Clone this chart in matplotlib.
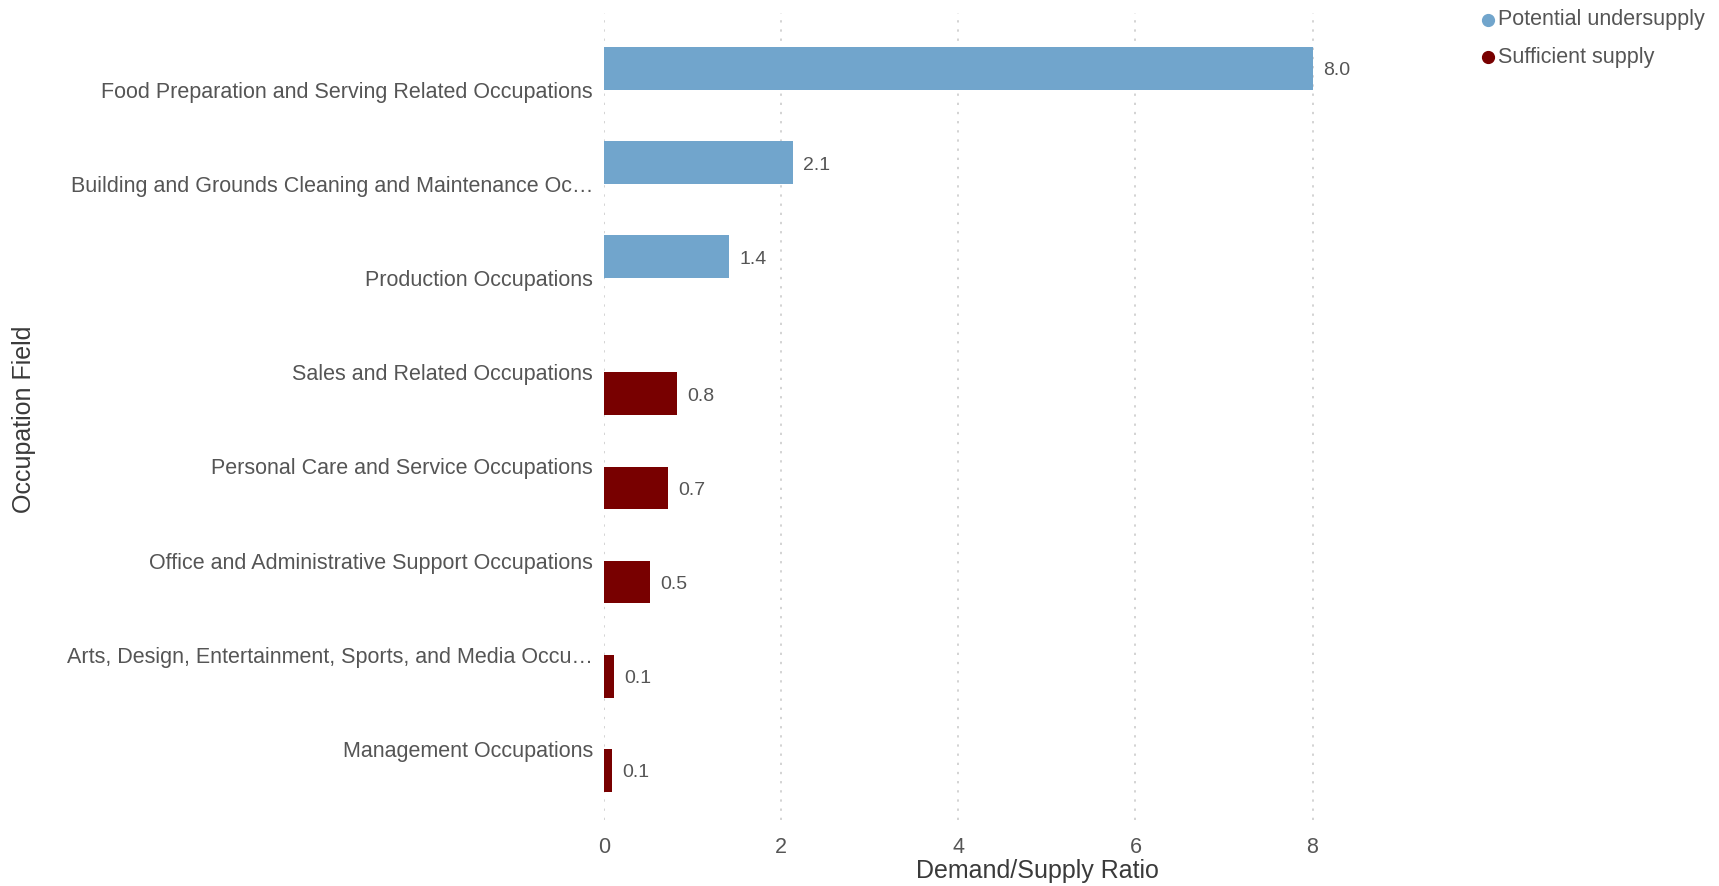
import matplotlib
matplotlib.use("Agg")
import matplotlib.pyplot as plt
from matplotlib.lines import Line2D

plt.rcParams['font.family'] = ['Liberation Sans', 'DejaVu Sans']

categories = [
    "Food Preparation and Serving Related Occupations",
    "Building and Grounds Cleaning and Maintenance Oc\u2026",
    "Production Occupations",
    "Sales and Related Occupations",
    "Personal Care and Service Occupations",
    "Office and Administrative Support Occupations",
    "Arts, Design, Entertainment, Sports, and Media Occu\u2026",
    "Management Occupations",
]
undersupply = [8.0, 2.13, 1.41, None, None, None, None, None]
sufficient = [None, None, None, 0.82, 0.72, 0.52, 0.11, 0.09]
series_names = ["Potential undersupply", "Sufficient supply"]
series_colors = ["#71A5CC", "#780000"]
x_ticks = [0, 2, 4, 6, 8]

# reference measured on a 1568x808 view of the 1719x886 image
RW, RH = 1568.0, 808.0
fig = plt.figure(figsize=(17.19, 8.86), dpi=100)
ax_left, ax_right = 551, 1341
ax_top, ax_bot = 12, 748
ax = fig.add_axes([ax_left / RW, 1 - ax_bot / RH, (ax_right - ax_left) / RW, (ax_bot - ax_top) / RH])

txt_color = "#555555"
title_color = "#3a3a3a"
bar_h = 0.453
offsets = [-0.227, 0.227]
for vals, name, col, off in zip([undersupply, sufficient], series_names, series_colors, offsets):
    idx = [i for i, v in enumerate(vals) if v is not None]
    v = [vals[i] for i in idx]
    ys = [i + off for i in idx]
    ax.barh(ys, v, height=bar_h, color=col, label=name)
    for y, val in zip(ys, v):
        ax.annotate(f"{val:.1f}", (val, y), xytext=(7.5, -1.8), textcoords="offset points",
                    va="center", ha="left", fontsize=14, color=txt_color)

ax.set_ylim(len(categories) - 1 + 0.756, -0.814)
ax.set_xlim(0, 9.78)
ax.set_yticks(range(len(categories)))
ax.set_yticklabels(categories, fontsize=15.5, color=txt_color)
ax.set_xticks(x_ticks)
ax.set_xticklabels([str(t) for t in x_ticks], fontsize=15.5, color=txt_color)
ax.tick_params(axis='both', length=0)
ax.tick_params(axis='y', pad=8)
ax.tick_params(axis='x', pad=12)
for s in ax.spines.values():
    s.set_visible(False)
ax.grid(axis='x', linestyle=(0, (1.5, 4.5)), color="#c8c8c8", linewidth=1.1)
ax.set_axisbelow(True)
ax.set_xlabel("Demand/Supply Ratio", fontsize=18, color=title_color, labelpad=1)
fig.text(22 / RW, 1 - 382 / RH, "Occupation Field", rotation=90, ha="center", va="center",
         fontsize=18, color=title_color)

legend_y = [18, 52]
for name, col, ly in zip(series_names, series_colors, legend_y):
    fig.add_artist(Line2D([1357 / RW], [1 - ly / RH], marker='o', markersize=8.5, color=col,
                          linestyle='', transform=fig.transFigure))
    fig.text(1366 / RW, 1 - ly / RH, name, ha="left", va="center", fontsize=15.5, color=txt_color)

fig.savefig("out.png", dpi=100)
